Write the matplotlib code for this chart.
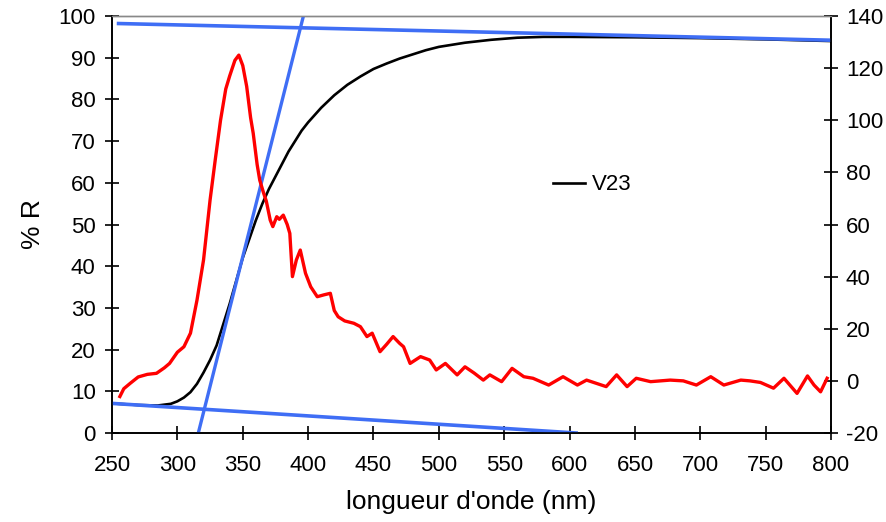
import matplotlib.pyplot as plt

plt.rcParams['font.family'] = ['Liberation Sans', 'DejaVu Sans']
plt.rcParams['axes.unicode_minus'] = False

# ==== Reflectance (left axis, % R) ====
wl_r = [255, 270, 285, 295, 300, 305, 310, 315, 320, 325, 330, 335, 340, 345,
        350, 355, 360, 365, 370, 375, 380, 385, 390, 395, 400, 410, 420, 430,
        440, 450, 460, 470, 480, 490, 500, 520, 540, 560, 580, 600, 650, 700,
        750, 800]
refl = [7.0, 6.7, 6.6, 7.0, 7.6, 8.5, 9.8, 11.8, 14.5, 17.5, 21, 26, 31, 36.5,
        42, 46.5, 51, 55, 58.5, 61.5, 64.5, 67.5, 70, 72.5, 74.5, 78, 81, 83.5,
        85.5, 87.3, 88.6, 89.8, 90.8, 91.8, 92.6, 93.6, 94.3, 94.8, 95.0, 95.0,
        94.9, 94.7, 94.4, 94.0]

# ==== Derivative (right axis) ====
wl_d = [256, 259, 264, 270, 277, 284, 290, 294, 300, 305, 310, 315, 320, 325,
        329, 333, 337, 340, 344, 347, 350, 353, 356, 358, 361, 363, 366, 368,
        371, 373, 376, 378, 381, 384, 386, 388, 391, 394, 398, 402, 407, 412,
        417, 420, 423, 428, 435, 440, 445, 449, 455, 460, 465, 470, 473, 478,
        486, 493, 498, 505, 514, 520, 527, 534, 539, 548, 556, 565, 572, 584,
        595, 606, 613, 628, 636, 644, 651, 662, 677, 687, 697, 708, 718, 731,
        738, 746, 756, 764, 774, 782, 787, 792, 797]
deriv = [-6, -3, -0.9, 1.5, 2.5, 2.9, 5, 6.7, 11, 13.1, 18.3, 31, 46.4, 69.4,
         85, 100, 112, 117, 123, 125, 121, 113, 101, 95, 83, 77, 72, 69,
         61.7, 59.2, 63, 62, 63.6, 60, 56.6, 40, 46.4, 50.2, 41.3, 36.1, 32.3, 33,
         33.6, 27, 24.6, 23, 22.1, 20.8, 17, 18.3, 11.2, 14, 17, 14.4, 13.1, 6.7,
         9.3, 8, 4.2, 6.7, 2.3, 5.4, 3, 0.3, 2.3, -0.3, 4.8, 1.6, 1, -1.6,
         1.6, -1.6, 0.3, -2.2, 2.3, -2.2, 1, -0.3, 0.3, 0, -1.6, 1.6, -1.6, 0.3,
         0, -0.6, -2.8, 1, -4.8, 1.9, -1.6, -4.2, 1]

# ==== Tangent lines (left axis) ====
top_x, top_y = [255, 800], [98.2, 94.2]
tan_x, tan_y = [316, 396.4], [0, 100]
base_x, base_y = [250, 605], [7.1, 0]

BLUE = '#3f6ef5'

fig = plt.figure(figsize=(8.87, 5.22), dpi=100)
ax = fig.add_axes([0.1263, 0.1705, 0.8106, 0.7988])
ax2 = ax.twinx()

ax.plot(wl_r, refl, color='black', lw=1.9, label='V23', zorder=2)
ax.plot(top_x, top_y, color=BLUE, lw=2.6, zorder=3)
ax.plot(tan_x, tan_y, color=BLUE, lw=2.4, zorder=3)
ax.plot(base_x, base_y, color=BLUE, lw=2.6, zorder=3)
ax2.plot(wl_d, deriv, color='#ff0000', lw=2.4)

ax.set_xlim(250, 800)
ax.set_ylim(0, 100)
ax2.set_ylim(-20, 140)
ax.set_xticks(range(250, 801, 50))
ax.set_yticks(range(0, 101, 10))
ax2.set_yticks(range(-20, 141, 20))

for a in (ax, ax2):
    a.tick_params(direction='inout', length=9.5, width=1.2, labelsize=16)
    for s in a.spines.values():
        s.set_linewidth(1.2)
    a.spines['top'].set_color('#888888')
    a.spines['top'].set_linewidth(1)
ax.tick_params(axis='x', pad=11)
ax.tick_params(axis='y', pad=7)
ax2.tick_params(axis='y', pad=6)

ax.set_xlabel("longueur d'onde (nm)", fontsize=19, labelpad=10)
ax.set_ylabel('% R', fontsize=19, labelpad=10)

ax.legend(loc='center left', bbox_to_anchor=(0.5855, 0.595), frameon=False,
          fontsize=16, handlelength=1.45, handletextpad=0.3)

fig.savefig('out.png', dpi=100)
